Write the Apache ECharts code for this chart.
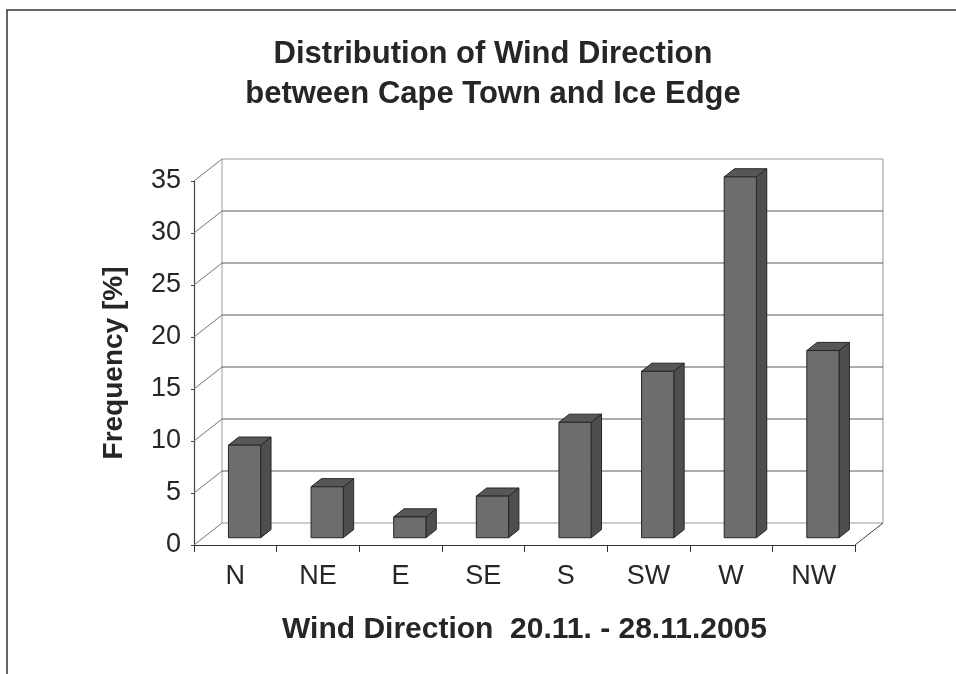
<!DOCTYPE html>
<html>
<head>
<meta charset="utf-8">
<script src="https://cdn.jsdelivr.net/npm/echarts@6/dist/echarts.min.js"></script>
<style>
html,body{margin:0;padding:0;background:#fff;}
#chart{width:956px;height:674px;}
</style>
</head>
<body>
<div id="chart"></div>
<script>
const categories = ['N', 'NE', 'E', 'SE', 'S', 'SW', 'W', 'NW'];
const frequency = [8.9, 4.9, 2.0, 4.0, 11.1, 16.0, 34.7, 18.0];
const yTicks = [0, 5, 10, 15, 20, 25, 30, 35];
const titleLines = ['Distribution of Wind Direction', 'between Cape Town and Ice Edge'];
const xTitle = 'Wind Direction  20.11. - 28.11.2005';
const yTitle = 'Frequency [%]';

const FONT = '"Liberation Sans", Arial, sans-serif';
const DX = 28, DY = -22;       // full depth offset of the back wall
const F0 = 0.33, F1 = 0.70;    // bar depth position (front, back)
const BAR_W = 0.39;            // bar width as share of a category

const chart = echarts.init(document.getElementById('chart'), null, {renderer: 'canvas'});

function wallItem(params, api) {
  const v = api.value(1);
  const p = api.coord([0, v]);
  const cw = api.size([1, 0])[0];
  const x0 = p[0] - cw / 2;
  const x1 = x0 + cw * categories.length;
  const y = p[1];
  const topY = api.coord([0, yTicks[yTicks.length - 1]])[1];
  const isEdge = (v === yTicks[0] || v === yTicks[yTicks.length - 1]);
  const col = isEdge ? '#9a9a9a' : '#5a5a5a';
  const children = [
    {type: 'line', shape: {x1: x0, y1: y, x2: x0 + DX, y2: y + DY}, style: {stroke: '#777', lineWidth: 1}},
    {type: 'line', shape: {x1: x0 + DX, y1: y + DY, x2: x1 + DX, y2: y + DY}, style: {stroke: col, lineWidth: 1.2}}
  ];
  if (v === yTicks[0]) {
    children.push({type: 'line', shape: {x1: x1, y1: y, x2: x1 + DX, y2: y + DY}, style: {stroke: '#444', lineWidth: 1}});
    children.push({type: 'line', shape: {x1: x0 + DX, y1: y + DY, x2: x0 + DX, y2: topY + DY}, style: {stroke: '#aaa', lineWidth: 1.2}});
    children.push({type: 'line', shape: {x1: x1 + DX, y1: y + DY, x2: x1 + DX, y2: topY + DY}, style: {stroke: '#aaa', lineWidth: 1.2}});
  }
  return {type: 'group', children: children};
}

function barItem(params, api) {
  const i = api.value(0);
  const v = api.value(1);
  const top = api.coord([i, v]);
  const base = api.coord([i, 0]);
  const cw = api.size([1, 0])[0];
  const w = cw * BAR_W;
  const fx = top[0] - w / 2 + DX * F0;
  const ty = top[1] + DY * F0;
  const by = base[1] + DY * F0;
  const ddx = DX * (F1 - F0), ddy = DY * (F1 - F0);
  const stroke = '#262626';
  return {
    type: 'group',
    children: [
      {type: 'polygon', shape: {points: [[fx + w, ty], [fx + w + ddx, ty + ddy], [fx + w + ddx, by + ddy], [fx + w, by]]},
        style: {fill: '#4e4e4e', stroke: stroke, lineWidth: 1}},
      {type: 'polygon', shape: {points: [[fx, ty], [fx + ddx, ty + ddy], [fx + w + ddx, ty + ddy], [fx + w, ty]]},
        style: {fill: '#575757', stroke: stroke, lineWidth: 1}},
      {type: 'rect', shape: {x: fx, y: ty, width: w, height: by - ty},
        style: {fill: '#6d6d6d', stroke: stroke, lineWidth: 1}}
    ]
  };
}

const option = {
  backgroundColor: '#fff',
  animation: false,
  title: {
    text: titleLines.join('\n'),
    left: 488,
    top: 29,
    textAlign: 'center',
    textStyle: {fontFamily: FONT, fontSize: 31, fontWeight: 'bold', color: '#262626', lineHeight: 40}
  },
  graphic: [
    {type: 'rect', z: 100, shape: {x: 7, y: 10, width: 1000, height: 700}, style: {fill: 'none', stroke: '#333', lineWidth: 1.5}}
  ],
  grid: {left: 194, top: 181, width: 661, height: 364, containLabel: false},
  xAxis: {
    type: 'category',
    data: categories,
    axisLine: {show: true, lineStyle: {color: '#333', width: 1.2}},
    axisTick: {show: true, length: 7, lineStyle: {color: '#333'}},
    axisLabel: {fontFamily: FONT, fontSize: 27, color: '#262626', margin: 18},
    splitLine: {show: false},
    name: xTitle,
    nameLocation: 'middle',
    nameGap: 70,
    nameTextStyle: {fontFamily: FONT, fontSize: 30, fontWeight: 'bold', color: '#262626'}
  },
  yAxis: {
    type: 'value',
    min: 0,
    max: 35,
    interval: 5,
    axisLine: {show: true, lineStyle: {color: '#444', width: 1.2}},
    axisTick: {show: true, length: 3, lineStyle: {color: '#444'}},
    axisLabel: {fontFamily: FONT, fontSize: 27, color: '#262626', margin: 13},
    splitLine: {show: false},
    name: yTitle,
    nameLocation: 'middle',
    nameRotate: 90,
    nameGap: 66,
    nameTextStyle: {fontFamily: FONT, fontSize: 28, fontWeight: 'bold', color: '#262626'}
  },
  series: [
    {
      type: 'custom',
      name: 'walls',
      renderItem: wallItem,
      data: yTicks.map(v => [0, v]),
      clip: false,
      silent: true,
      z: 1
    },
    {
      type: 'custom',
      name: 'Frequency',
      renderItem: barItem,
      data: frequency.map((v, i) => [i, v]),
      clip: false,
      z: 5
    }
  ]
};
chart.setOption(option);
</script>
</body>
</html>
